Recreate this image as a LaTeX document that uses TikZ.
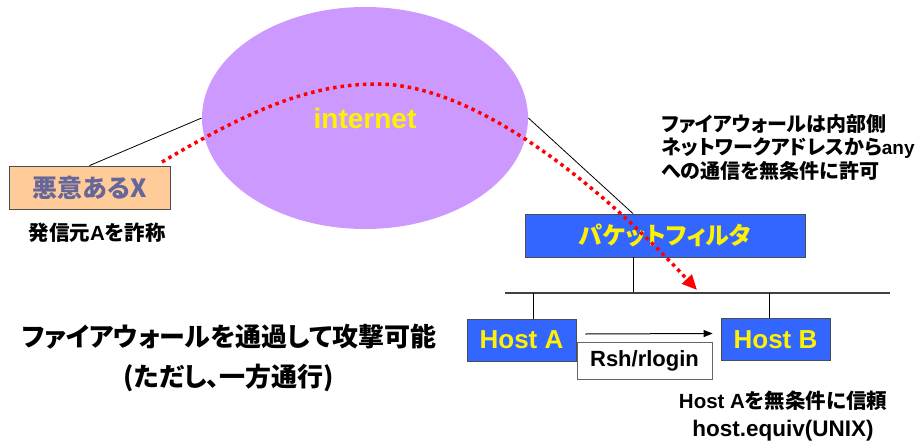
\documentclass[tikz,border=0pt]{standalone}
\usepackage{fontspec}
\setmainfont{Liberation Sans}
\newfontfamily\jp{Noto Sans CJK JP}[RawFeature=+palt]
\usepackage{tikz}
\usetikzlibrary{shapes.geometric}
\usetikzlibrary{arrows.meta}
\usepackage{xcolor}
\definecolor{netpurple}{HTML}{CC99FF}
\definecolor{peach}{HTML}{FFCC99}
\definecolor{slate}{HTML}{666699}
\definecolor{pfblue}{HTML}{3366FF}

\begin{document}
\begin{tikzpicture}[x=1pt,y=-1pt,thick]
\useasboundingbox (0,0) rectangle (920,444);

\tikzstyle{every node}=[inner sep=0pt]
\tikzstyle{bluebox}=[draw=black!70,fill=pfblue,text=yellow]
\tikzstyle{hostbox}=[bluebox,minimum width=109pt,minimum height=42pt,
  font=\fontsize{26}{30}\selectfont\bfseries]
\tikzstyle{trail}=[draw=red,line width=3.5pt,dash pattern=on 3.5pt off 4pt,
  -{Triangle[length=15pt,width=13pt]}]

\def\jpt#1{{\jp #1}}

% internet and attacker
\node[ellipse,fill=netpurple,minimum width=326pt,minimum height=222pt,
  text=yellow,font=\fontsize{28}{32}\selectfont\bfseries] (net) at (365,118) {internet};
\node[draw=black!70,fill=peach,minimum width=161pt,minimum height=43pt,
  text=slate,font=\fontsize{25}{28}\selectfont\bfseries\jp] (evil) at (89.5,187.5) {悪意あるX};
\node[font=\fontsize{20.5}{22}\selectfont\bfseries] (spoof) at (97,233) {\jpt{発信元}A\jpt{を詐称}};

% packet filter and LAN
\node[bluebox,minimum width=280pt,minimum height=43pt,
  font=\fontsize{24}{28}\selectfont\bfseries\jp] (pf) at (665,235.5) {パケットフィルタ};
\coordinate (busL) at (505,293);
\coordinate (busR) at (890,293);
\coordinate (pfdrop) at (633,293);
\coordinate (adrop) at (533,293);
\coordinate (bdrop) at (769,293);

\node[hostbox] (hostA) at (521.5,340) {Host A};
\node[hostbox] (hostB) at (775.5,339.5) {Host B};
\node[draw=black!60,fill=white,minimum width=135pt,minimum height=37pt,
  font=\fontsize{22}{26}\selectfont\bfseries] (rsh) at (644.5,360.5) {Rsh/rlogin};

\draw (evil.north) -- (net.west);
\draw (net.east) -- (pf.north -| pfdrop);
\draw (pf.south -| pfdrop) -- (pfdrop);
\draw[draw=black!75,line width=1.3pt] (busL) -- (busR);
\draw (adrop) -- (hostA.north -| adrop);
\draw (bdrop) -- (hostB.north -| bdrop);
\draw[line width=1pt,-{Triangle[length=9pt,width=7pt]}]
  ([xshift=9pt,yshift=6pt]hostA.east) -- ([xshift=-8pt,yshift=6pt]hostB.west);

% notes
\node[anchor=west,align=left,font=\fontsize{20}{23.5}\selectfont\bfseries] (fwnote) at (661,147)
  {\jpt{ファイアウォールは内部側}\\ \jpt{ネットワークアドレスから}{\fontsize{19}{23.5}\selectfont any}\\ \jpt{への通信を無条件に許可}};
\node[align=center,font=\fontsize{26}{40}\selectfont\bfseries\jp] (pass) at (229,358)
  {ファイアウォールを通過して攻撃可能\\(ただし、一方通行)};
\node[align=center,font=\fontsize{20.5}{28}\selectfont\bfseries] (trust) at (783,416)
  {Host A\jpt{を無条件に信頼}\\{\fontsize{22.5}{28}\selectfont host.equiv(UNIX)}};

% spoofed route
\draw[trail] (162,162) .. controls (250,110) and (310,84) .. (377,84)
  .. controls (470,84) and (590,175) .. (697,290);
\end{tikzpicture}
\end{document}
